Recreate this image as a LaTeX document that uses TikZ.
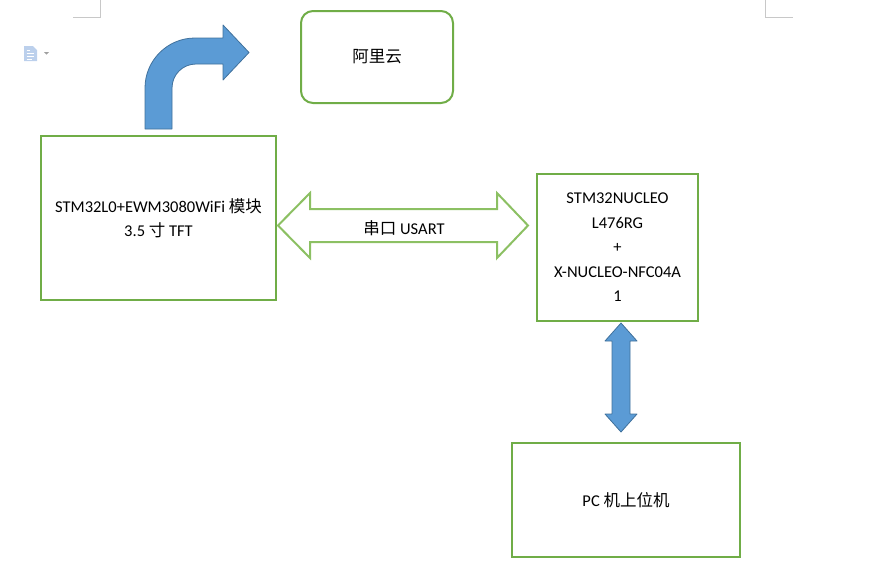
\documentclass[tikz,border=0pt]{standalone}
\usepackage{fontspec}
\setmainfont{Carlito}
\newfontfamily\cjk{Noto Sans CJK SC}
\definecolor{boxgreen}{HTML}{70AD47}
\definecolor{arrgreen}{HTML}{8CC063}
\definecolor{arrblue}{HTML}{5B9BD5}
\definecolor{arrblueline}{HTML}{41719C}
\definecolor{markgray}{HTML}{C8C8C8}
\definecolor{iconblue}{HTML}{BCD0EC}
\begin{document}
\begin{tikzpicture}[x=1pt,y=-1pt,
  txt/.style={font=\fontsize{16.5}{24.5}\selectfont, align=center, text=black},
  greenbox/.style={draw=boxgreen, line width=2pt, fill=white, inner sep=0pt},
  bluearrow/.style={fill=arrblue, draw=arrblueline, line width=0.8pt, line join=round},
  hollowarrow/.style={fill=white, draw=arrgreen, line width=2pt, line join=miter},
  cornermark/.style={draw=markgray, line width=0.8pt}]
\useasboundingbox (0,0) rectangle (882,571);
% page corner marks
\draw[cornermark] (100,0) -- (100,17) -- (73,17);
\draw[cornermark] (765,0) -- (765,17) -- (793,17);
% document icon
\fill[iconblue] (24,46) -- (33,46) -- (37,50) -- (37,61) -- (24,61) -- cycle;
\draw[white, line width=0.8pt] (26.5,50) -- (30,50) (26.5,53) -- (34,53) (26.5,56) -- (34,56) (26.5,59) -- (32,59);
\fill[markgray!80!black] (44,52) -- (49,52) -- (46.5,54.5) -- cycle;
% boxes
\node[greenbox, rounded corners=12pt, minimum width=152pt, minimum height=92pt] (aliyun) at (377,57) {};
\node[txt] (aliyunlabel) at (aliyun.center) {\cjk 阿里云};
\node[greenbox, minimum width=235pt, minimum height=164pt] (left) at (158.5,218) {};
\node[txt] (leftlabel) at (left.center) {STM32L0+EWM3080WiFi {\cjk 模块}\\3.5 {\cjk 寸} TFT};
\node[greenbox, minimum width=161pt, minimum height=147pt] (nucleo) at (617.5,247.5) {};
\node[txt] (nucleolabel) at (nucleo.center) {STM32NUCLEO\\L476RG\\+\\X-NUCLEO-NFC04A\\1};
\node[greenbox, minimum width=228pt, minimum height=114pt] (pc) at (626,500) {};
\node[txt] (pclabel) at (pc.center) {PC {\cjk 机上位机}};
% bent arrow to cloud
\draw[bluearrow] (145,129) -- (145,88) .. controls (145,60.4) and (167.4,38) .. (195,38)
  -- (223,38) -- (223,25) -- (249,52.5) -- (223,80) -- (223,64) -- (196,64)
  .. controls (182.7,64) and (172,74.7) .. (172,88) -- (172,129) -- cycle;
% horizontal double arrow
\draw[hollowarrow] (278,225.5) -- (310,193) -- (310,209) -- (497,209) -- (497,193) -- (528,225.5)
  -- (497,258) -- (497,242) -- (310,242) -- (310,258) -- cycle;
\node[txt] (usart) at (404,228) {{\cjk 串口} USART};
% vertical double arrow
\draw[bluearrow] (621,323) -- (637,341) -- (630,341) -- (630,414) -- (637,414) -- (621,432)
  -- (605,414) -- (612,414) -- (612,341) -- (605,341) -- cycle;
\end{tikzpicture}
\end{document}
